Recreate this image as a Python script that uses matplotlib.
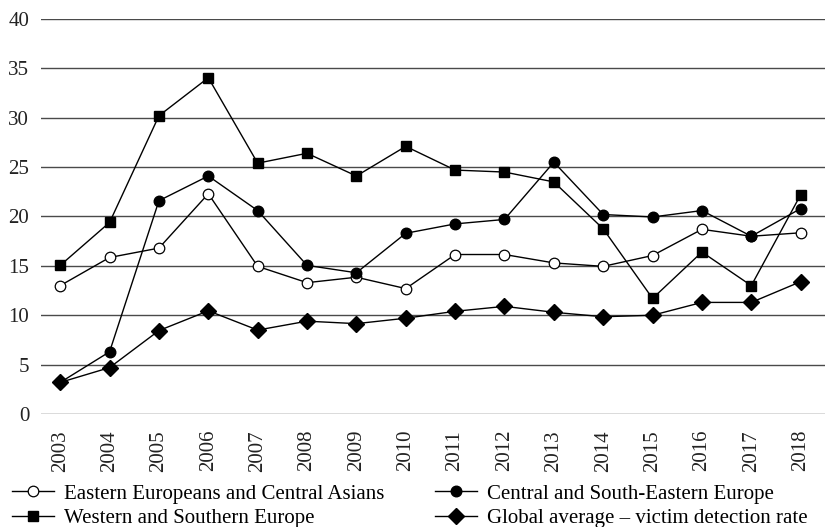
import numpy as np
import matplotlib
matplotlib.use("Agg")
import matplotlib.pyplot as plt

plt.rcParams['font.family'] = ['Liberation Serif', 'DejaVu Serif']

years = [str(y) for y in range(2003, 2019)]

# values
eastern = [13.0, 15.85, 16.8, 22.3, 14.95, 13.3, 13.85, 12.7,
           16.15, 16.15, 15.3, 14.95, 16.05, 18.7, 18.0, 18.35]
central = [3.2, 6.3, 21.6, 24.1, 20.6, 15.05, 14.3, 18.3,
           19.25, 19.7, 25.5, 20.2, 19.95, 20.6, 18.0, 20.8]
western = [15.05, 19.4, 30.2, 34.05, 25.4, 26.4, 24.1, 27.1,
           24.7, 24.5, 23.5, 18.75, 11.7, 16.4, 13.0, 22.2]
global_avg = [3.2, 4.7, 8.45, 10.45, 8.5, 9.4, 9.15, 9.7,
              10.4, 10.9, 10.3, 9.85, 10.0, 11.3, 11.3, 13.4]

labels = ['Eastern Europeans and Central Asians', 'Western and Southern Europe',
          'Central and South-Eastern Europe', 'Global average \u2013 victim detection rate']

fig = plt.figure(figsize=(8.26, 5.27), dpi=100)
ax = fig.add_axes([0.0496, 0.2144, 0.949, 0.7496])

x = np.arange(len(years))
lw = 1.0
h1, = ax.plot(x, eastern, color='black', lw=lw, marker='o', ms=7.6,
              mfc='white', mec='black', mew=0.9, zorder=3)
h3, = ax.plot(x, western, color='black', lw=lw, marker='s', ms=7.8,
              mfc='black', mec='black', zorder=3)
h2, = ax.plot(x, central, color='black', lw=lw, marker='o', ms=7.6,
              mfc='black', mec='black', zorder=4)
h4, = ax.plot(x, global_avg, color='black', lw=lw, marker='D', ms=7.8,
              mfc='black', mec='black', zorder=5)

ax.set_ylim(0, 40)
ax.set_xlim(-0.39, 15.49)
ax.set_yticks(range(0, 41, 5))
ax.set_xticks(x)
ax.set_xticklabels(years, rotation=90)
ax.tick_params(axis='both', length=0, labelsize=15, colors='#222222')
ax.tick_params(axis='y', pad=8.5)
ax.tick_params(axis='x', pad=11.5)
for v in range(0, 41, 5):
    ax.axhline(v, color='#4a4a4a', lw=1.0, zorder=1)
for s in ax.spines.values():
    s.set_visible(False)

fig.legend([h1, h3, h2, h4], labels, ncol=2, loc='upper left',
           bbox_to_anchor=(12 / 826, 1 - 484 / 527), frameon=False, fontsize=15,
           handlelength=2.0, handletextpad=0.48, columnspacing=2.45,
           labelspacing=0.25, borderpad=0, borderaxespad=0)

fig.savefig('out.png', dpi=100)
